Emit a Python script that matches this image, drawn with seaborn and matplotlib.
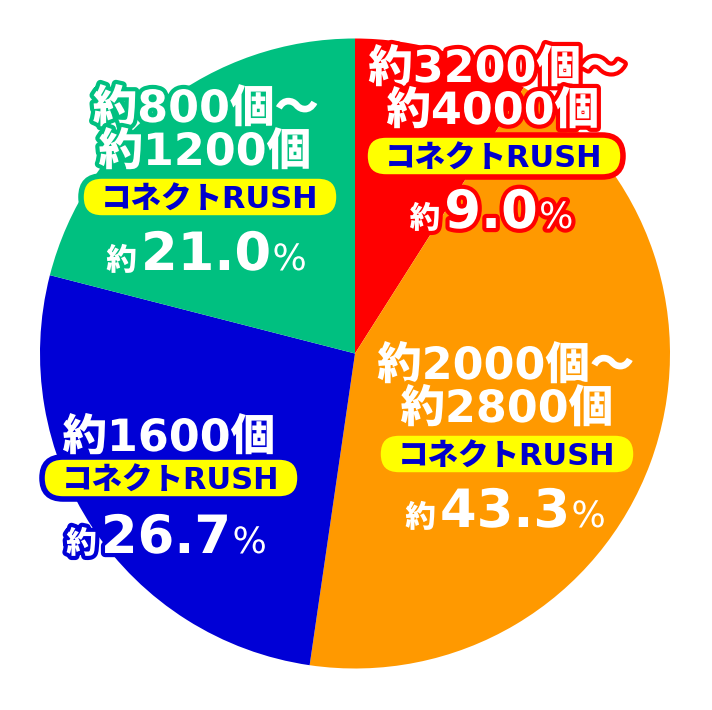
import matplotlib
matplotlib.use("Agg")
import matplotlib.pyplot as plt
import matplotlib.patheffects as pe
from matplotlib.patches import FancyBboxPatch
import seaborn as sns

# slices, clockwise from 12 o'clock
pct = [9.0, 43.3, 26.7, 21.0]
range_top = ["約3200個～", "約2000個～", "約1600個", "約800個～"]
range_bottom = ["約4000個", "約2800個", "", "約1200個"]
rush_label = "コネクトRUSH"

colors = ["#ff0000", "#ff9900", "#0000d6", "#00c080"]

sns.set_theme(style="white")
plt.rcParams["font.family"] = ["DejaVu Sans", "Noto Sans CJK JP"]

CX, CY, R = 355, 353.5, 315


def P(px, py):
    # image pixel -> data coords (pie centre at 0,0, radius 1)
    return (px - CX) / R, (CY - py) / R


fig = plt.figure(figsize=(7.12, 7.10), dpi=100)
ax = fig.add_axes([0, 0, 1, 1])
ax.pie(pct, colors=colors, startangle=90, counterclock=False, radius=1,
       wedgeprops=dict(linewidth=0))
ax.set_xlim(P(0, 0)[0], P(712, 0)[0])
ax.set_ylim(P(0, 710)[1], P(0, 0)[1])
ax.set_aspect("auto")
ax.axis("off")

# label layout per slice (pixel positions)
layout = [
    dict(l1=(497, 82), l2=(493, 124), box=(494, 156), num=(491, 228)),
    dict(l1=(506, 379), l2=(507, 422), box=(507, 454), num=(505, 527)),
    dict(l1=(169, 451), l2=None, box=(171, 478), num=(166, 553)),
    dict(l1=(206, 122), l2=(205, 165), box=(210, 197), num=(206, 270)),
]


def outlined(c, w=6):
    return [pe.withStroke(linewidth=w, foreground=c)]


fig.canvas.draw()
for i, lay in enumerate(layout):
    c = colors[i]
    x, y = P(*lay["l1"])
    ax.text(x, y, range_top[i], ha="center", va="baseline", fontsize=32,
            fontweight="black", color="white", path_effects=outlined(c))
    if lay["l2"] is not None:
        x, y = P(*lay["l2"])
        ax.text(x, y, range_bottom[i], ha="center", va="baseline", fontsize=32,
                fontweight="black", color="white", path_effects=outlined(c))

    bx, by = P(*lay["box"])
    bw, bh = 258 / R, 42 / R
    ax.add_patch(FancyBboxPatch((bx - bw / 2, by - bh / 2), bw, bh,
                                boxstyle=f"round,pad=0,rounding_size={bh / 2}",
                                fc="#ffff00", ec=c, lw=4, zorder=3))
    tx, ty = P(lay["box"][0], lay["box"][1] + 12)
    ax.text(tx, ty, rush_label, ha="center", va="baseline", fontsize=22,
            fontweight="black", color="#0000cc", zorder=4)

    nx, ny = P(*lay["num"])
    t = ax.text(nx, ny, f"{pct[i]:.1f}", ha="center", va="baseline",
                fontsize=38, fontweight="black", color="white",
                path_effects=outlined(c), zorder=5)
    ax.annotate("約", xy=(0, ny), xycoords=(t, "data"), xytext=(-3, 0),
                textcoords="offset points", ha="right", va="baseline",
                fontsize=22, fontweight="black", color="white",
                path_effects=outlined(c), zorder=5)
    ax.annotate("%", xy=(1, ny), xycoords=(t, "data"), xytext=(1, 0),
                textcoords="offset points", ha="left", va="baseline",
                fontsize=26, color="white",
                path_effects=outlined(c), zorder=5)

fig.savefig("out.png", dpi=100)
